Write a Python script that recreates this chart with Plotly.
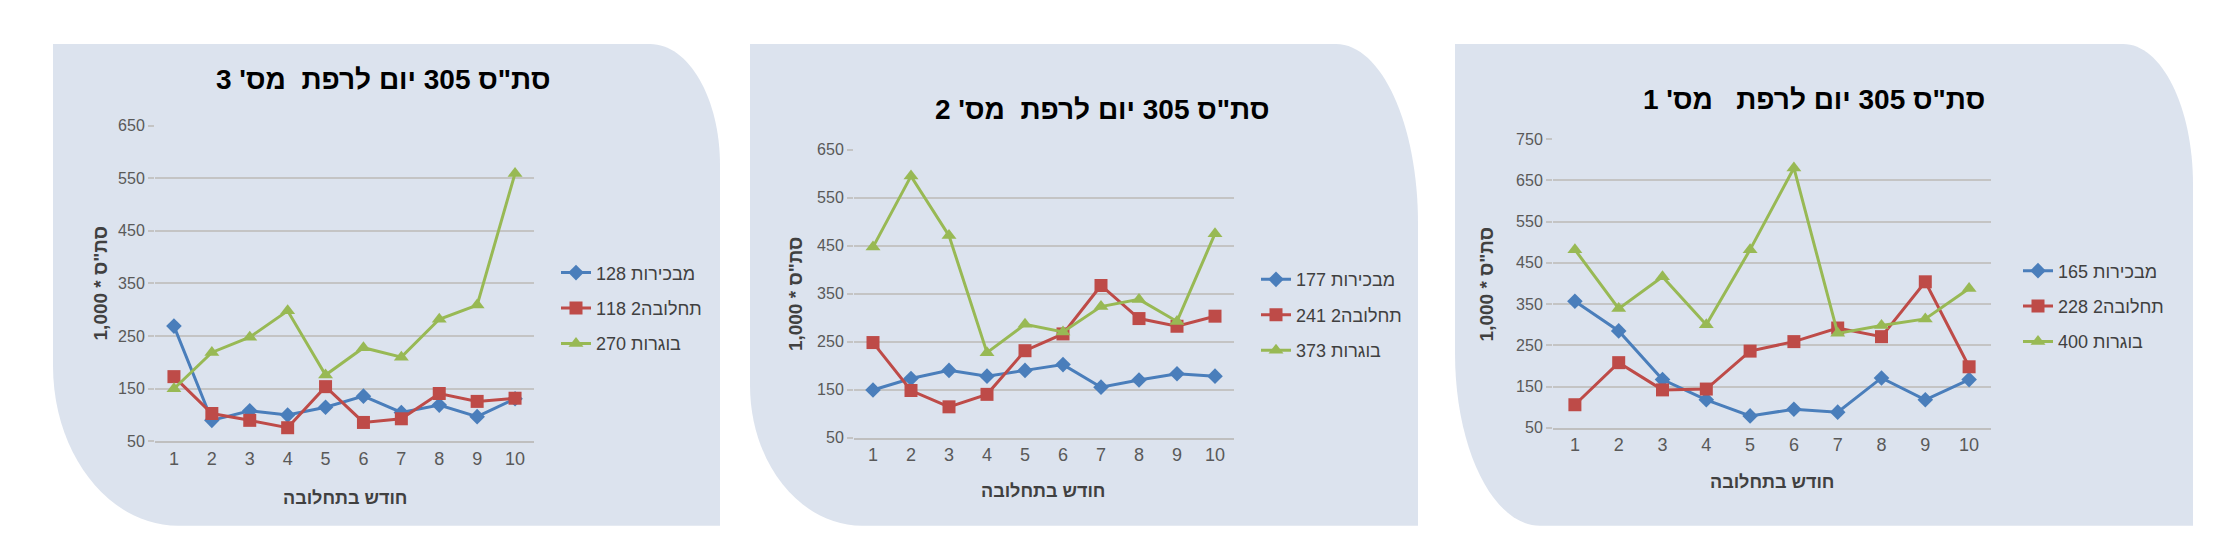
import plotly.graph_objects as go

W, H = 2228, 549

# ---------------- data ----------------
months = [1, 2, 3, 4, 5, 6, 7, 8, 9, 10]

titles = ["סת\"ס 305 יום לרפת\u00a0 מס' 3",
          "סת\"ס 305 יום לרפת\u00a0 מס' 2",
          "סת\"ס 305 יום לרפת\u00a0\u00a0 מס' 1"]
x_title = "חודש בתחלובה"
y_title = "1,000 * סת\"ס"
series_names = ["מבכירות", "2תחלובה", "בוגרות"]

# farm 3 (left panel)
f3_first = [269, 90, 108, 100, 115, 136, 105, 119, 97, 131]
f3_second = [173, 103, 90, 76, 154, 86, 93, 141, 126, 132]
f3_adult = [150, 219, 248, 298, 176, 228, 210, 282, 309, 559]
f3_avg = [128, 118, 270]

# farm 2 (middle panel)
f2_first = [149, 173, 190, 178, 190, 202, 155, 170, 183, 178]
f2_second = [248, 148, 114, 140, 231, 266, 367, 298, 282, 303]
f2_adult = [447, 595, 471, 227, 286, 270, 323, 338, 292, 475]
f2_avg = [177, 241, 373]

# farm 1 (right panel)
f1_first = [357, 285, 167, 118, 79, 95, 88, 171, 118, 167]
f1_second = [106, 208, 142, 144, 236, 259, 292, 271, 404, 198]
f1_adult = [482, 339, 416, 300, 482, 680, 279, 298, 314, 388]
f1_avg = [165, 228, 400]

y_ranges = [[50, 650], [50, 650], [50, 750]]

# ---------------- style ----------------
colors = ["#4a7ebb", "#be4b48", "#98b954"]
symbols = ["diamond", "square", "triangle-up"]
msizes = [12, 13, 13]
BG = "#dce3ee"
FONT = "Liberation Sans, Arial, DejaVu Sans, sans-serif"

panels = [
    dict(data=[f3_first, f3_second, f3_adult], avg=f3_avg,
         box=(45, 712, 29, 526), tr=(70, 125), bl=(125, 165),
         plot=(147, 526, 113, 439), title=(375, 66),
         xt=(337, 497), yt=(92, 276), leg=(548, 246)),
    dict(data=[f2_first, f2_second, f2_adult], avg=f2_avg,
         box=(742, 1410, 29, 526), tr=(82, 185), bl=(112, 145),
         plot=(846, 1226, 138, 435), title=(1094, 96),
         xt=(1035, 490), yt=(787, 287), leg=(1248, 253)),
    dict(data=[f1_first, f1_second, f1_adult], avg=f1_avg,
         box=(1447, 2185, 29, 526), tr=(70, 145), bl=(85, 178),
         plot=(1545, 1983, 127, 425), title=(1806, 86),
         xt=(1764, 481), yt=(1478, 277), leg=(2010, 244)),
]


def px(x):
    return x / W


def py(y):
    return 1 - y / H


def panel_path(box, tr, bl):
    L, R, T, B = box
    rx1, ry1 = tr
    rx2, ry2 = bl
    k = 0.5523
    pts = []
    pts.append(f"M {px(L)},{py(T)}")
    pts.append(f"L {px(R - rx1)},{py(T)}")
    pts.append(f"C {px(R - rx1 + k * rx1)},{py(T)} {px(R)},{py(T + ry1 - k * ry1)} {px(R)},{py(T + ry1)}")
    pts.append(f"L {px(R)},{py(B)}")
    pts.append(f"L {px(L + rx2)},{py(B)}")
    pts.append(f"C {px(L + rx2 - k * rx2)},{py(B)} {px(L)},{py(B - ry2 + k * ry2)} {px(L)},{py(B - ry2)}")
    pts.append("Z")
    return " ".join(pts)


fig = go.Figure()
shapes = []
annotations = []
layout_axes = {}

for i, p in enumerate(panels):
    n = "" if i == 0 else str(i + 1)
    xa, ya = "x" + n, "y" + n
    legname = "legend" if i == 0 else f"legend{i + 1}"
    for j in range(3):
        fig.add_trace(go.Scatter(
            x=months, y=p["data"][j], xaxis=xa, yaxis=ya,
            mode="lines+markers", name=f"{p['avg'][j]} {series_names[j]}",
            line=dict(color=colors[j], width=3),
            marker=dict(symbol=symbols[j], size=msizes[j], color=colors[j]),
            legend=legname, legendgroup=f"g{i}{j}", cliponaxis=False,
        ))
    L, R, T, B = p["plot"]
    layout_axes["xaxis" + n] = dict(
        domain=[px(L), px(R)], anchor=ya, range=[0.5, 10.5],
        tickvals=months, ticktext=[str(m) for m in months],
        showgrid=False, zeroline=False, showline=True, linecolor="#bfbfbf", linewidth=1.5,
        ticks="", tickfont=dict(family=FONT, size=18, color="#595959"),
        fixedrange=True,
    )
    layout_axes["yaxis" + n] = dict(
        domain=[py(B), py(T)], anchor=xa, range=y_ranges[i], dtick=100,
        tick0=50, showgrid=True, gridcolor="#c4c4c4", gridwidth=2,
        zeroline=False, showline=False, ticks="outside", ticklen=6,
        tickcolor="#c4c4c4", tickwidth=2,
        tickfont=dict(family=FONT, size=16, color="#595959"),
        fixedrange=True,
    )
    lx, ly = p["leg"]
    layout_axes[legname] = dict(
        x=px(lx), y=py(ly), xanchor="left", yanchor="top",
        bgcolor="rgba(0,0,0,0)", font=dict(family=FONT, size=18, color="#404040"),
        tracegroupgap=9, itemwidth=30,
    )
    shapes.append(dict(type="path", path=panel_path(p["box"], p["tr"], p["bl"]),
                       xref="paper", yref="paper", fillcolor=BG,
                       line=dict(width=0), layer="below"))
    tx, ty = p["title"]
    annotations.append(dict(text=f"<b>{titles[i]}</b>", x=px(tx), y=py(ty),
                            xref="paper", yref="paper", showarrow=False,
                            xanchor="center", yanchor="middle",
                            font=dict(family=FONT, size=28, color="#000000")))
    xx, xy = p["xt"]
    annotations.append(dict(text=f"<b>{x_title}</b>", x=px(xx), y=py(xy),
                            xref="paper", yref="paper", showarrow=False,
                            xanchor="center", yanchor="middle",
                            font=dict(family=FONT, size=18, color="#404040")))
    yx, yy = p["yt"]
    annotations.append(dict(text=f"<b>{y_title}</b>", x=px(yx), y=py(yy),
                            xref="paper", yref="paper", showarrow=False,
                            xanchor="center", yanchor="middle", textangle=-90,
                            font=dict(family=FONT, size=19, color="#404040")))

fig.update_layout(
    width=W, height=H, autosize=False,
    margin=dict(l=0, r=0, t=0, b=0),
    paper_bgcolor="#ffffff", plot_bgcolor="#ffffff",
    showlegend=True, shapes=shapes, annotations=annotations,
    **layout_axes,
)

fig.write_html("out.html")
